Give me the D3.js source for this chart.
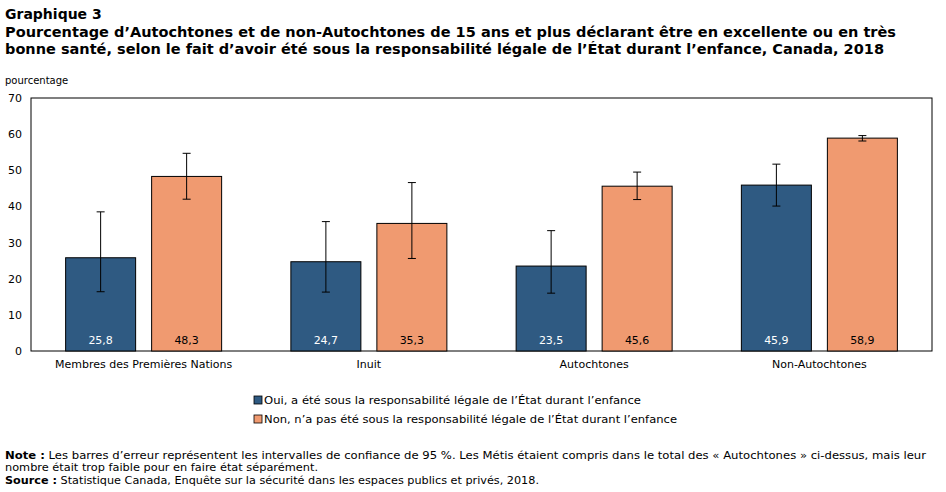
<!DOCTYPE html>
<html>
<head>
<meta charset="utf-8">
<script src="https://cdn.jsdelivr.net/npm/d3@7"></script>
<style>
  body { margin: 0; background: #fff; }
  svg { display: block; font-family: Verdana, "DejaVu Sans", sans-serif; }
</style>
</head>
<body>
<div id="chart"></div>
<script>
// Données
const categories = ['Membres des Premières Nations', 'Inuit', 'Autochtones', 'Non-Autochtones']
const seriesNames = [
  'Oui, a été sous la responsabilité légale de l’État durant l’enfance',
  'Non, n’a pas été sous la responsabilité légale de l’État durant l’enfance'
]
const valuesOui = [25.8, 24.7, 23.5, 45.9]
const valuesNon = [48.3, 35.3, 45.6, 58.9]
const lowOui = [16.4, 16.3, 16.0, 40.1]
const highOui = [38.5, 35.8, 33.3, 51.7]
const lowNon = [42.0, 25.6, 41.9, 58.1]
const highNon = [54.7, 46.6, 49.5, 59.6]
const yTicks = [0, 10, 20, 30, 40, 50, 60, 70]

const W = 946, H = 492
const colors = ['#2f5a82', '#f09a70']
const margin = { left: 31, right: 14, top: 98, bottom: 141 }
const font = 'Verdana, "DejaVu Sans", sans-serif'

const svg = d3.select('#chart').append('svg')
  .attr('width', W).attr('height', H)

// Titre
svg.append('text').attr('x', 5).attr('y', 19)
  .style('font-size', '14px').style('font-weight', 'bold')
  .text('Graphique 3')
const titleLines = [
  'Pourcentage d’Autochtones et de non-Autochtones de 15 ans et plus déclarant être en excellente ou en très',
  'bonne santé, selon le fait d’avoir été sous la responsabilité légale de l’État durant l’enfance, Canada, 2018'
]
titleLines.forEach((t, i) => {
  svg.append('text').attr('x', 5).attr('y', 37 + i * 17)
    .style('font-size', '14px').style('font-weight', 'bold')
    .attr('textLength', i === 0 ? 891 : 879).attr('lengthAdjust', 'spacingAndGlyphs')
    .text(t)
})

svg.append('text').attr('x', 5).attr('y', 84)
  .style('font-size', '10px').text('pourcentage')

const x0 = d3.scaleBand().domain(categories)
  .range([margin.left, W - margin.right]).padding(0)
const x1 = d3.scaleBand().domain([0, 1])
  .range([0, 156]).paddingInner(16 / 86)
const y = d3.scaleLinear().domain([0, 70]).range([H - margin.bottom, margin.top])

// Cadre
svg.append('rect')
  .attr('x', margin.left).attr('y', margin.top)
  .attr('width', W - margin.right - margin.left)
  .attr('height', y(0) - margin.top)
  .attr('fill', 'none').attr('stroke', '#000').attr('stroke-width', 1)

// Axe Y
const yAxis = svg.append('g')
  .attr('transform', `translate(${margin.left},0)`)
  .call(d3.axisLeft(y).tickValues(yTicks).tickSize(0).tickPadding(9))
yAxis.select('.domain').remove()
yAxis.selectAll('text').style('font-size', '11px').style('font-family', font).attr('fill', '#000')

// Axe X
const xAxis = svg.append('g')
  .attr('transform', `translate(0,${y(0)})`)
  .call(d3.axisBottom(x0).tickSize(0).tickPadding(9))
xAxis.select('.domain').remove()
xAxis.selectAll('text').style('font-size', '11px').style('font-family', font).attr('fill', '#000')

const series = [
  { vals: valuesOui, lo: lowOui, hi: highOui, label: '#fff' },
  { vals: valuesNon, lo: lowNon, hi: highNon, label: '#000' }
]

const groups = svg.append('g').selectAll('g')
  .data(categories).join('g')
  .attr('transform', d => `translate(${x0(d) + x0.bandwidth() / 2 - 78},0)`)

series.forEach((s, si) => {
  const bw = x1.bandwidth()
  groups.append('rect')
    .attr('x', x1(si)).attr('width', bw)
    .attr('y', (d, i) => y(s.vals[i]))
    .attr('height', (d, i) => y(0) - y(s.vals[i]))
    .attr('fill', colors[si]).attr('stroke', '#000').attr('stroke-width', 1)

  groups.append('text')
    .attr('x', x1(si) + bw / 2).attr('y', y(0) - 7)
    .attr('text-anchor', 'middle')
    .style('font-size', '11px').attr('fill', s.label)
    .text((d, i) => d3.format('.1f')(s.vals[i]).replace('.', ','))

  const cx = x1(si) + bw / 2
  groups.append('line')
    .attr('x1', cx).attr('x2', cx)
    .attr('y1', (d, i) => y(s.lo[i])).attr('y2', (d, i) => y(s.hi[i]))
    .attr('stroke', '#000').attr('stroke-width', 1)
  ;['lo', 'hi'].forEach(k => {
    groups.append('line')
      .attr('x1', cx - 4).attr('x2', cx + 4)
      .attr('y1', (d, i) => y(s[k][i])).attr('y2', (d, i) => y(s[k][i]))
      .attr('stroke', '#000').attr('stroke-width', 1)
  })
})

// Légende
const legendLen = [377, 413]
seriesNames.forEach((n, i) => {
  const ly = 400 + i * 19
  svg.append('rect').attr('x', 254).attr('y', ly - 4).attr('width', 8).attr('height', 8)
    .attr('fill', colors[i]).attr('stroke', '#000').attr('stroke-width', 0.8)
  svg.append('text').attr('x', 264).attr('y', ly + 4)
    .style('font-size', '11px')
    .attr('textLength', legendLen[i]).attr('lengthAdjust', 'spacingAndGlyphs')
    .text(n)
})

// Notes
const notes = svg.append('g').style('font-size', '11px')
const n1 = notes.append('text').attr('x', 5).attr('y', 459)
  .attr('textLength', 921).attr('lengthAdjust', 'spacingAndGlyphs')
n1.append('tspan').style('font-weight', 'bold').text('Note :')
n1.append('tspan').text(' Les barres d’erreur représentent les intervalles de confiance de 95 %. Les Métis étaient compris dans le total des « Autochtones » ci-dessus, mais leur')
notes.append('text').attr('x', 5).attr('y', 471)
  .attr('textLength', 313).attr('lengthAdjust', 'spacingAndGlyphs')
  .text('nombre était trop faible pour en faire état séparément.')
const n3 = notes.append('text').attr('x', 5).attr('y', 484)
  .attr('textLength', 534).attr('lengthAdjust', 'spacingAndGlyphs')
n3.append('tspan').style('font-weight', 'bold').text('Source :')
n3.append('tspan').text(' Statistique Canada, Enquête sur la sécurité dans les espaces publics et privés, 2018.')
</script>
</body>
</html>
